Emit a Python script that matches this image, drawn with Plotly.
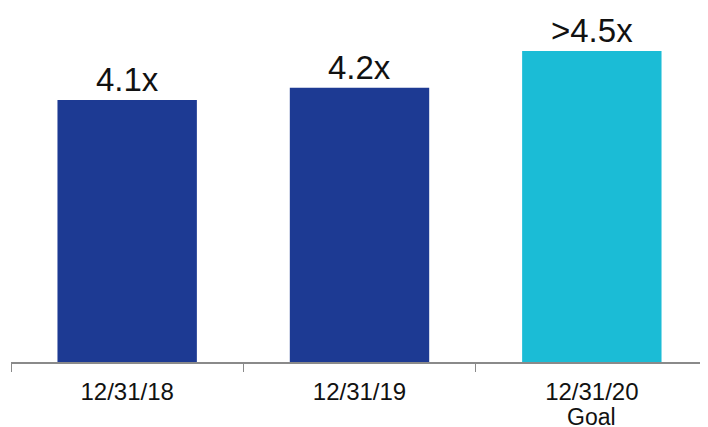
import plotly.graph_objects as go

categories = ["12/31/18", "12/31/19", "12/31/20"]
sublabels = ["", "", "Goal"]
values = [4.1, 4.2, 4.5]
labels = ["4.1x", "4.2x", ">4.5x"]
colors = ["#1d3a93", "#1d3a93", "#1bbcd6"]

fig = go.Figure(go.Bar(x=categories, y=values, marker=dict(color=colors, line=dict(width=0)),
                       hoverinfo="skip"))

for c, v, t in zip(categories, values, labels):
    fig.add_annotation(x=c, y=v, text=t, showarrow=False, yanchor="bottom", yshift=0,
                       font=dict(family="Arial, Liberation Sans", size=33, color="#111111"))

for c, s in zip(categories, sublabels):
    if s:
        fig.add_annotation(x=c, y=0, yref="paper", text=s, showarrow=False,
                           yanchor="middle", yshift=-55,
                           font=dict(family="Arial, Liberation Sans", size=23, color="#111111"))

fig.update_layout(
    width=700, height=419,
    margin=dict(l=3, r=0, t=0, b=65),
    paper_bgcolor="white", plot_bgcolor="white",
    bargap=0.4,
    showlegend=False,
    xaxis=dict(showline=True, linecolor="#8a8a8a", linewidth=1.5, ticks="outside",
               tickson="boundaries", ticklen=8, tickcolor="#8a8a8a", automargin=False,
               ticklabelstandoff=7,
               tickfont=dict(family="Arial, Liberation Sans", size=24, color="#111111"),
               showgrid=False, zeroline=False),
    yaxis=dict(range=[1.961, 4.851], visible=False, showgrid=False, zeroline=False,
               automargin=False),
)

fig.write_html("out.html")
